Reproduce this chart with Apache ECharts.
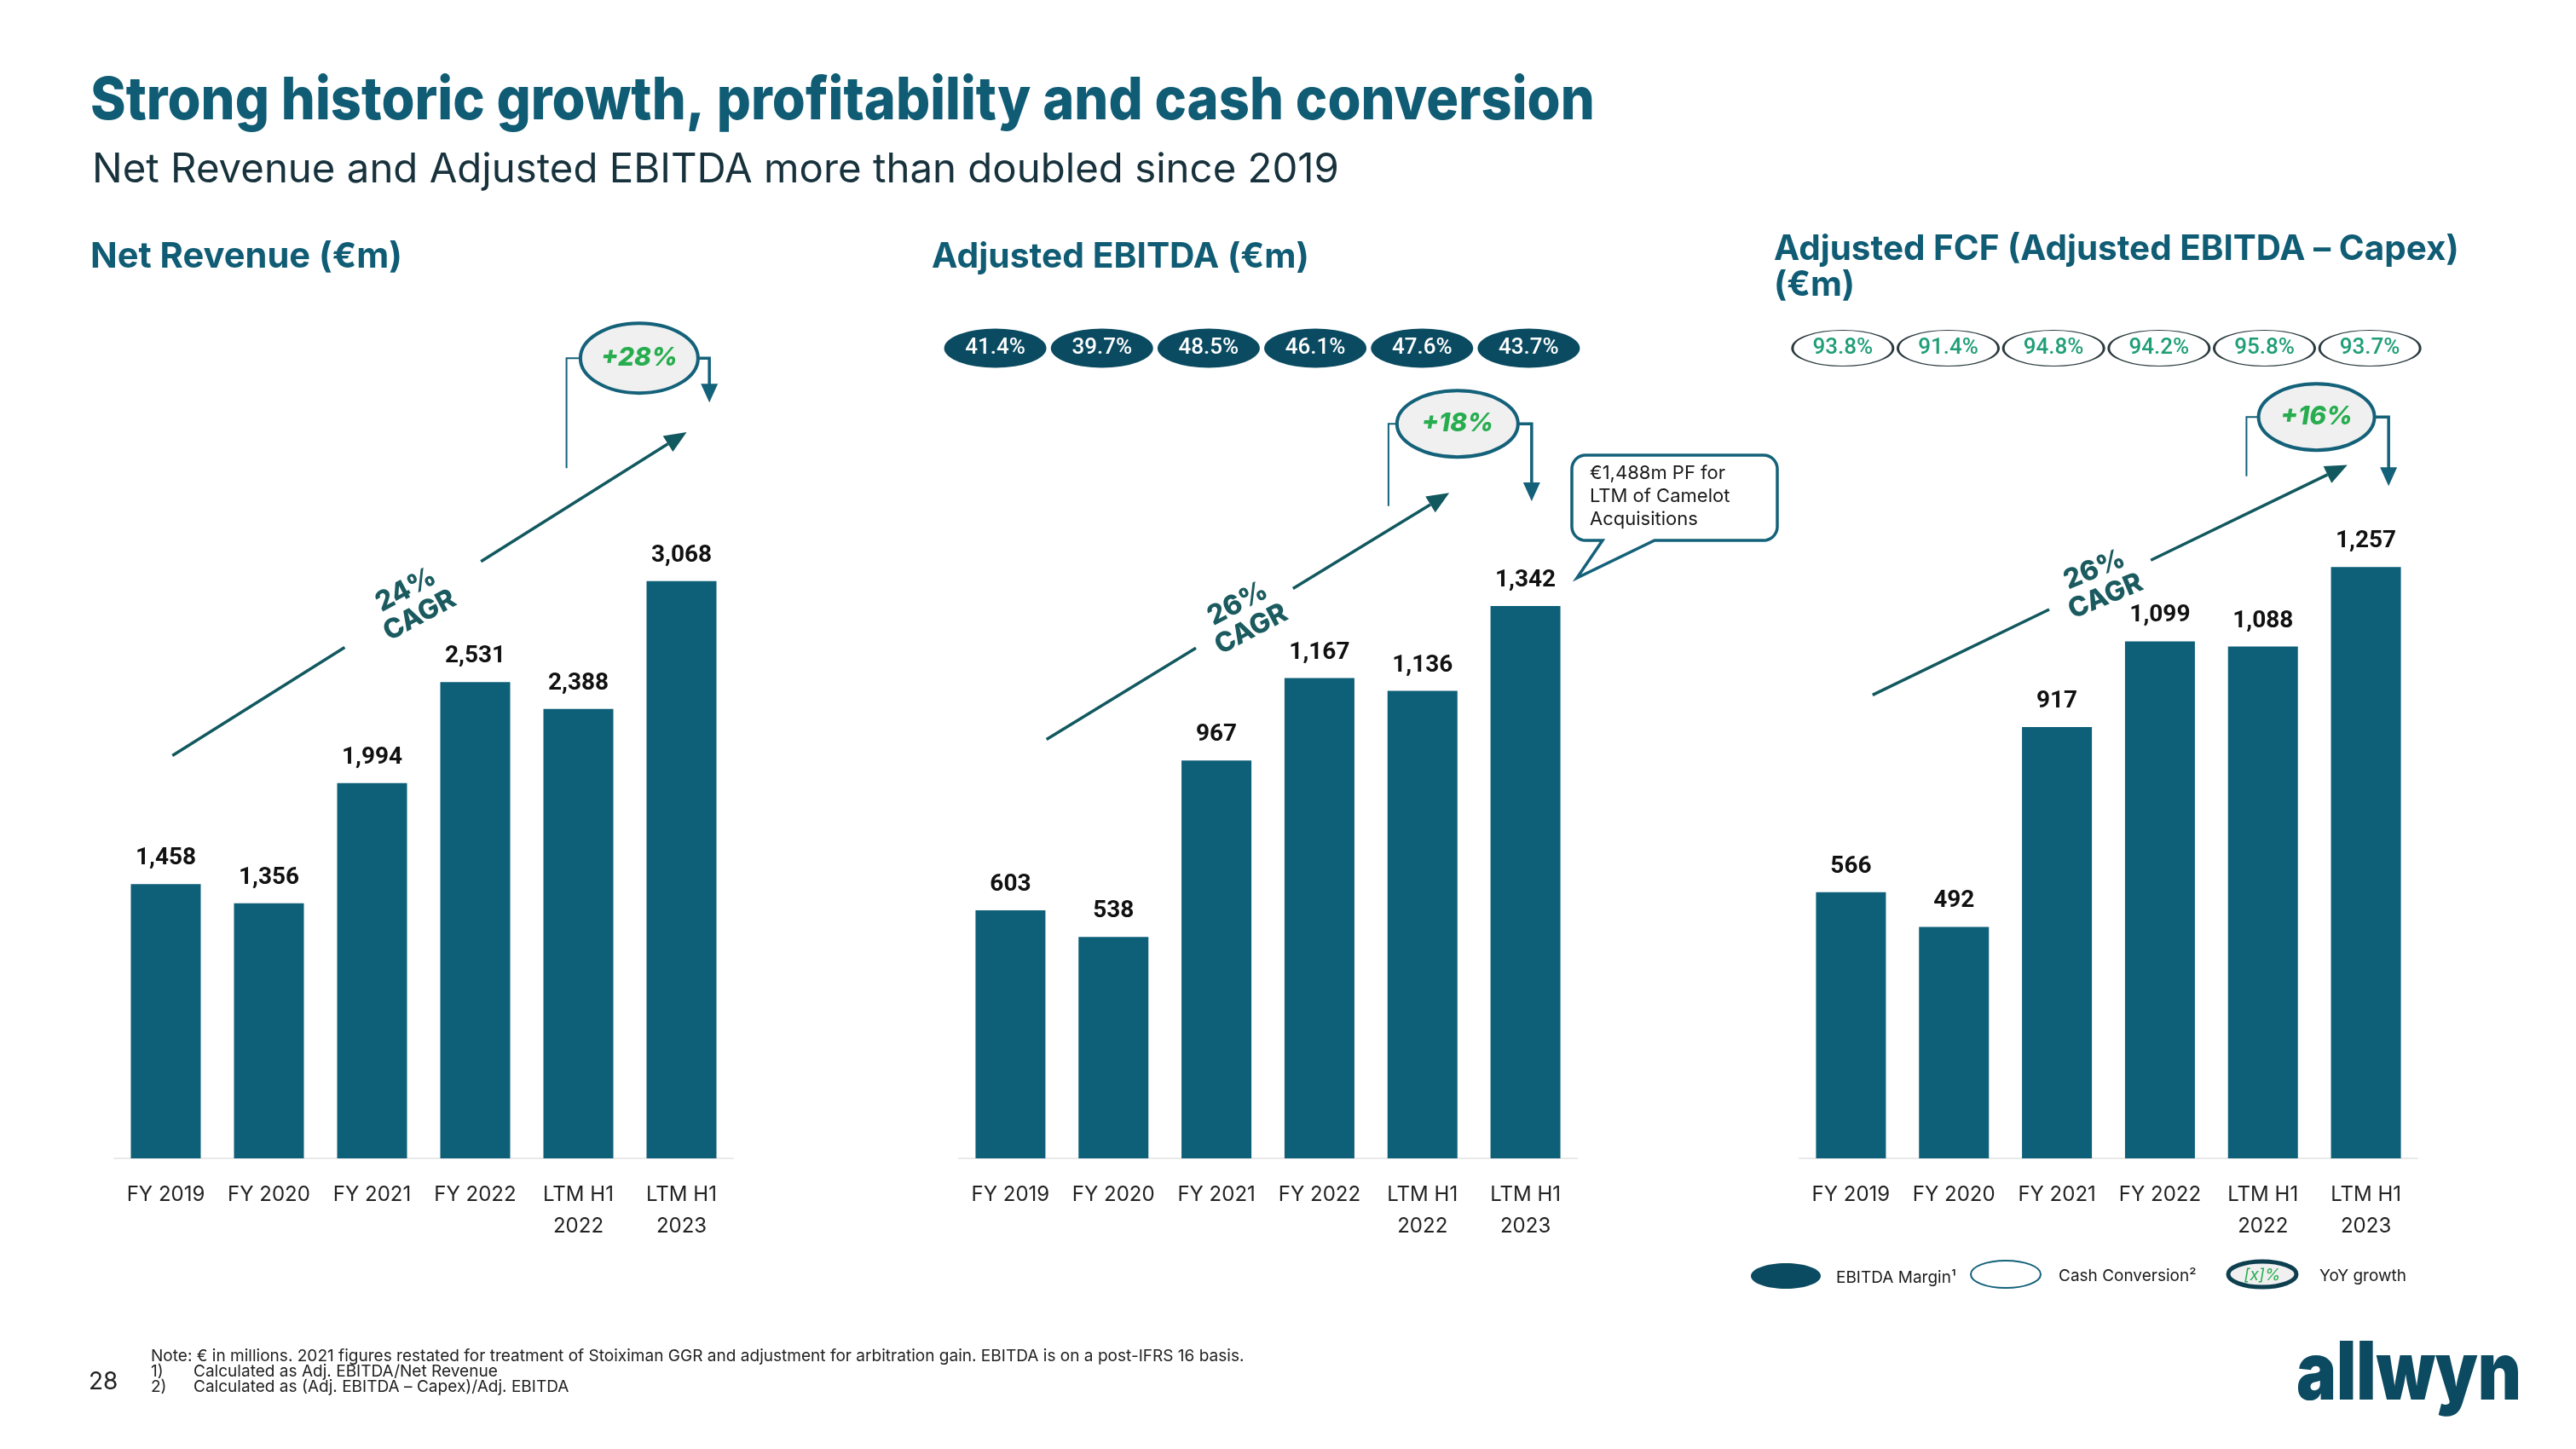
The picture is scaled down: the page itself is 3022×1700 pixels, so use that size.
<!DOCTYPE html>
<html><head><meta charset="utf-8">
<script src="https://cdn.jsdelivr.net/npm/echarts@6/dist/echarts.min.js"></script>
<style>html,body{margin:0;padding:0;background:#fff}#c{width:3022px;height:1700px}</style>
</head><body><div id="c"></div>
<script>
// ---------- data ----------
const categories = ['FY 2019','FY 2020','FY 2021','FY 2022','LTM H1\n2022','LTM H1\n2023'];
const netRevenue = [1458,1356,1994,2531,2388,3068];
const adjEbitda = [603,538,967,1167,1136,1342];
const adjFcf = [566,492,917,1099,1088,1257];
const ebitdaMargin = ['41.4%','39.7%','48.5%','46.1%','47.6%','43.7%'];
const cashConversion = ['93.8%','91.4%','94.8%','94.2%','95.8%','93.7%'];
const cagrLabels = ['24%\nCAGR','26%\nCAGR','26%\nCAGR'];
const yoyLabels = ['+28%','+18%','+16%'];

// ---------- style / layout ----------
const BAR = '#0e5f78', TEAL = '#0f5c74', DARK = '#0b4b61', LINE = '#11585f', GREEN = '#27ad4f';
const FONT = 'Inter, "Noto Sans", sans-serif';
const NARROW = 'Roboto, "Noto Sans", sans-serif';
const yMax = [4000, 1800, 1600];
const grids = [
  {left:134, width:726, top:476, height:883},
  {left:1125, width:725, top:490, height:869},
  {left:2111, width:725, top:476, height:883},
  {left:1105, width:751, top:380, height:57},
  {left:2100, width:742, top:380, height:57}
];

const chart = echarts.init(document.getElementById('c'));
const xAxes = grids.map((g,i)=>({
  type:'category', gridIndex:i, data:categories, show: i<3,
  axisLine:{show:true, lineStyle:{color:'#e9e9e9', width:2}},
  axisTick:{show:false},
  axisLabel:{fontFamily:FONT, fontSize:24, color:'#222', margin:24, lineHeight:37, interval:0}
}));
const yAxes = grids.map((g,i)=>({
  type:'value', gridIndex:i, min:0, max: i<3 ? yMax[i] : 1, show:false, splitLine:{show:false}
}));
const barSeries = [netRevenue, adjEbitda, adjFcf].map((d,i)=>({
  type:'bar', xAxisIndex:i, yAxisIndex:i, data:d, barWidth:82,
  itemStyle:{color:BAR},
  label:{show:true, position:'top', distance:16, fontFamily:'Roboto, '+FONT, fontWeight:'bold', fontSize:28, color:'#111',
    formatter:p=>p.value.toLocaleString('en-US')}
}));
const pillSeries = [
  {type:'scatter', xAxisIndex:3, yAxisIndex:3, data:ebitdaMargin.map((t,i)=>[i,0.5]),
   symbol:'circle', symbolSize:[120,46], itemStyle:{color:DARK, opacity:1}, clip:false,
   label:{show:true, position:'inside', color:'#fff', fontFamily:NARROW, fontSize:26, fontWeight:500,
     formatter:p=>ebitdaMargin[p.dataIndex]}},
  {type:'scatter', xAxisIndex:4, yAxisIndex:4, data:cashConversion.map((t,i)=>[i,0.5]),
   symbol:'circle', symbolSize:[118,42], itemStyle:{color:'#fff', borderColor:'#2b3a3f', borderWidth:1.8, opacity:1}, clip:false,
   label:{show:true, position:'inside', color:'#1f9e76', fontFamily:NARROW, fontSize:26, fontWeight:500,
     formatter:p=>cashConversion[p.dataIndex]}}
];
chart.setOption({
  animation:false, backgroundColor:'#fff',
  grid: grids.map(g=>Object.assign({containLabel:false}, g)),
  xAxis:xAxes, yAxis:yAxes, series: barSeries.concat(pillSeries)
});

// ---------- annotations (positions in category-index / value units) ----------
const annot = [
  {g:0, s:[0.064,2140], e:[5.05,3860], gap:[0.335,0.60], c:[4.59,4253], rx:69, ry:41, lx:3.885, lv:3668, rxp:5.27, rv:4017},
  {g:1, s:[0.35,1018], e:[4.26,1617], gap:[0.371,0.612], c:[4.34,1785], rx:71, ry:39, lx:3.67, lv:1585, rxp:5.06, rv:1597},
  {g:2, s:[0.21,985], e:[4.82,1474], gap:[0.372,0.586], c:[4.52,1576], rx:68, ry:39, lx:3.84, lv:1450, rxp:5.22, rv:1429}
];
function P(g, ci, v){
  const a = chart.convertToPixel({gridIndex:g}, [0, v]);
  const b = chart.convertToPixel({gridIndex:g}, [1, v]);
  return [a[0] + ci*(b[0]-a[0]), a[1]];
}
const cv = document.createElement('canvas').getContext('2d');
function fit(text, weight, target, fam){ cv.font = weight+' 100px '+(fam||FONT); return 100*target/cv.measureText(text).width; }
function txt(x,y,text,size,weight,fill,opt){
  opt = opt||{};
  return Object.assign({type:'text', x, y, silent:true, style:{text, fill, font:(opt.italic?'italic ':'')+weight+' '+size+'px '+(opt.fam||FONT),
    align:opt.align||'left', verticalAlign:'middle', textAlign:opt.align||'left', textVerticalAlign:'middle', lineHeight:opt.lh}}, opt.extra||{});
}
const G = [];
annot.forEach((a,k)=>{
  const S = P(a.g, a.s[0], a.s[1]), E = P(a.g, a.e[0], a.e[1]);
  const dx = E[0]-S[0], dy = E[1]-S[1], L = Math.hypot(dx,dy), ux = dx/L, uy = dy/L;
  const pt = t=>[S[0]+dx*t, S[1]+dy*t];
  const g1 = pt(a.gap[0]), g2 = pt(a.gap[1]);
  const AL = 26, AW = 11;
  const base = [E[0]-ux*AL, E[1]-uy*AL];
  G.push({type:'polyline', silent:true, shape:{points:[S,g1]}, style:{stroke:LINE, lineWidth:3.5, fill:null}});
  G.push({type:'polyline', silent:true, shape:{points:[g2,base]}, style:{stroke:LINE, lineWidth:3.5, fill:null}});
  G.push({type:'polygon', silent:true, shape:{points:[E,[base[0]-uy*AW, base[1]+ux*AW],[base[0]+uy*AW, base[1]-ux*AW]]}, style:{fill:LINE}});
  const mid = pt((a.gap[0]+a.gap[1])/2);
  const ang = Math.atan2(-dy, dx)*0.88;
  G.push(txt(mid[0], mid[1]-2, cagrLabels[k], 32, '800', '#1b5b5f', {align:'center', lh:34, extra:{rotation:ang}}));
  // YoY bubble
  const C = P(a.g, a.c[0], a.c[1]);
  const Lx = P(a.g, a.lx, a.lv), Rx = P(a.g, a.rxp, a.rv);
  G.push({type:'polyline', silent:true, shape:{points:[[C[0]-a.rx, C[1]],[Lx[0], C[1]],[Lx[0], Lx[1]]]}, style:{stroke:'#14617a', lineWidth:2, fill:null}});
  G.push({type:'polyline', silent:true, shape:{points:[[C[0]+a.rx, C[1]],[Rx[0], C[1]],[Rx[0], Rx[1]-20]]}, style:{stroke:'#14617a', lineWidth:3.5, fill:null}});
  G.push({type:'polygon', silent:true, shape:{points:[[Rx[0], Rx[1]],[Rx[0]-10, Rx[1]-22],[Rx[0]+10, Rx[1]-22]]}, style:{fill:'#14617a'}});
  G.push({type:'ellipse', silent:true, shape:{cx:C[0], cy:C[1], rx:a.rx, ry:a.ry}, style:{fill:'#f0f0f0', stroke:'#14617a', lineWidth:4}});
  G.push(txt(C[0], C[1], yoyLabels[k], 30, '800', GREEN, {align:'center', italic:true}));
});

// headings
const title = 'Strong historic growth, profitability and cash conversion';
const sub = 'Net Revenue and Adjusted EBITDA more than doubled since 2019';
G.push(txt(106, 119, title, fit(title,'800',1765), '800', TEAL, {extra:{scaleY:1.1}}));
G.push(txt(108, 200, sub, fit(sub,'400',1463), '400', '#17323c'));
const h1='Net Revenue (€m)', h2='Adjusted EBITDA (€m)', h3='Adjusted FCF (Adjusted EBITDA – Capex)';
const hs = fit(h3,'700',804);
G.push(txt(106, 301, h1, fit(h1,'700',366), '700', TEAL));
G.push(txt(1093, 302, h2, fit(h2,'700',443), '700', TEAL));
G.push(txt(2081, 293, h3, hs, '700', TEAL));
G.push(txt(2081, 335, '(€m)', hs, '700', TEAL));

// callout (rounded box with tail)
(function(){
  const x1=1844,y1=534,x2=2085,y2=634,r=16, pts=[];
  function arc(cx,cy,a0,a1){ for(let i=0;i<=8;i++){ const a=a0+(a1-a0)*i/8; pts.push([cx+r*Math.cos(a), cy+r*Math.sin(a)]); } }
  arc(x1+r,y1+r,Math.PI,1.5*Math.PI);
  arc(x2-r,y1+r,1.5*Math.PI,2*Math.PI);
  arc(x2-r,y2-r,0,0.5*Math.PI);
  pts.push([1941,y2],[1850,678],[1880,y2]);
  arc(x1+r,y2-r,0.5*Math.PI,Math.PI);
  G.push({type:'polygon', silent:true, shape:{points:pts}, style:{fill:'#fff', stroke:'#14617a', lineWidth:3.5}});
  G.push(txt(1865, 582, '€1,488m PF for\nLTM of Camelot\nAcquisitions', 22, '400', '#1a1a1a', {lh:27}));
})();

// legend
G.push({type:'ellipse', silent:true, shape:{cx:2095, cy:1497, rx:41, ry:15}, style:{fill:DARK}});
G.push(txt(2154, 1499, 'EBITDA Margin¹', 19, '400', '#1a1a1a'));
G.push({type:'ellipse', silent:true, shape:{cx:2353, cy:1495, rx:41, ry:16}, style:{fill:'#fff', stroke:'#14617a', lineWidth:2}});
G.push(txt(2415, 1497, 'Cash Conversion²', 19, '400', '#1a1a1a'));
G.push({type:'ellipse', silent:true, shape:{cx:2654, cy:1495, rx:40, ry:15}, style:{fill:'#f0f0f0', stroke:'#0d3f4f', lineWidth:5}});
G.push(txt(2654, 1496, '[x]%', 19, '400', GREEN, {align:'center', italic:true}));
G.push(txt(2721, 1497, 'YoY growth', 19, '400', '#1a1a1a'));

// footnotes
const note = 'Note: € in millions. 2021 figures restated for treatment of Stoiximan GGR and adjustment for arbitration gain. EBITDA is on a post-IFRS 16 basis.';
const ns = fit(note,'400',1283);
G.push(txt(177, 1591, note, ns, '400', '#222'));
G.push(txt(177, 1609, '1)', ns, '400', '#222'));
G.push(txt(227, 1609, 'Calculated as Adj. EBITDA/Net Revenue', ns, '400', '#222'));
G.push(txt(177, 1627, '2)', ns, '400', '#222'));
G.push(txt(227, 1627, 'Calculated as (Adj. EBITDA – Capex)/Adj. EBITDA', ns, '400', '#222'));
G.push(txt(104, 1622, '28', 28, '400', '#222'));

// logo
const ls = fit('allwyn','900',264);
G.push(txt(2694, 1614, 'allwyn', ls, '900', '#0b4a60', {extra:{scaleY:1.2}}));

chart.setOption({graphic: G});
</script></body></html>
